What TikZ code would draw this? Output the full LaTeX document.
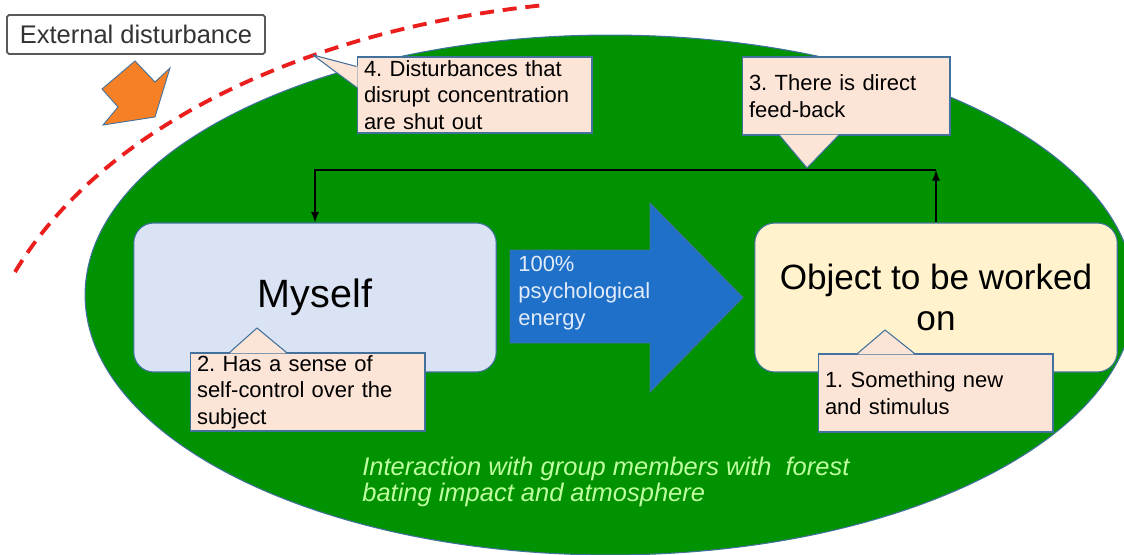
\documentclass[tikz,border=0pt]{standalone}
\usepackage{fontspec}
\setmainfont{Liberation Sans}
\usepackage{xcolor}
\usepackage{tikz}
\usetikzlibrary{shapes.geometric,calc}
\frenchspacing

\definecolor{forest}{RGB}{0,146,0}
\definecolor{edgeblue}{RGB}{65,113,156}
\definecolor{selfblue}{RGB}{218,227,243}
\definecolor{objcream}{RGB}{255,242,204}
\definecolor{notepeach}{RGB}{252,228,214}
\definecolor{energyblue}{RGB}{31,112,200}
\definecolor{energytext}{RGB}{225,235,250}
\definecolor{gustorange}{RGB}{246,128,38}
\definecolor{shieldred}{RGB}{235,30,30}
\definecolor{moodgreen}{RGB}{190,255,160}

\begin{document}
\begin{tikzpicture}[x=0.02cm,y=-0.02cm,
        mainbox/.style={draw=edgeblue,line width=0.6pt,rounded corners=0.4cm,minimum width=7.25cm,minimum height=2.98cm,align=center},
        note/.style={draw=edgeblue,line width=0.6pt,fill=notepeach,align=left,inner xsep=0.14cm,inner ysep=0.02cm,minimum height=1.56cm,font=\fontsize{12.5}{15}\selectfont},
        noteedge/.style={draw=edgeblue,line width=0.6pt,line join=round},
        feedback/.style={line width=1.1pt,-latex}]
        \useasboundingbox (0,0) rectangle (1124,554);
        \clip (0,0) rectangle (1124,554);

        \node[ellipse,draw=edgeblue,line width=0.6pt,fill=forest,minimum width=21cm,minimum height=10.4cm] (group) at (610,295) {};

        \draw[shieldred,line width=2.2pt,dash pattern=on 8pt off 5pt] (15,272) .. controls (100,130) and (300,30) .. (545,5);

        \node[draw=black!65,line width=1pt,rounded corners=1pt,fill=white,minimum width=5.16cm,minimum height=0.78cm,text=black!80,font=\fontsize{14.5}{17}\selectfont] (ext) at (136,34.5) {External disturbance};
        \filldraw[fill=gustorange,draw=edgeblue,line width=0.5pt] (135,61) -- (155,82) -- (170,68) -- (155,117) -- (103,125) -- (118,107) -- (102,89) -- cycle;

        \node[mainbox,fill=selfblue,font=\fontsize{22.5}{26}\selectfont] (me) at (315,297.5) {Myself};
        \node[mainbox,fill=objcream,font=\fontsize{20}{23.8}\selectfont] (obj) at (936,297.5) {Object to be worked\\on};

        \filldraw[fill=energyblue,draw=edgeblue,line width=0.5pt] (510,250) -- (650,250) -- (650,203) -- (743,297.5) -- (650,392) -- (650,343) -- (510,343) -- cycle;
        \node[anchor=north west,inner sep=0pt,align=left,text=energytext,font=\fontsize{12.5}{15.3}\selectfont] (energy) at (518,256) {100\%\\psychological\\energy};

        \coordinate (turn) at (936,170);
        \draw[feedback] (obj.north) -- (turn);
        \draw[feedback] (turn) -| (me.north);

        % notes with their pointers
        \coordinate (tip1) at (885,330);
        \coordinate (tip2) at (257,328);
        \coordinate (tip3) at (807,168);
        \coordinate (tip4) at (313,55);
        \node[note,minimum width=4.7cm,text width=4.42cm] (n1) at (935.5,393) {1. Something new\\and stimulus};
        \fill[notepeach] ($(n1.north west)+(40,1)$) -- (tip1) -- ($(n1.north west)+(97,1)$) -- cycle;
        \draw[noteedge] ($(n1.north west)+(40,0)$) -- (tip1) -- ($(n1.north west)+(97,0)$);

        \node[note,minimum width=4.7cm,text width=4.42cm] (n2) at (307.5,392) {2. Has a sense of\\self-control over the\\subject};
        \fill[notepeach] ($(n2.north west)+(40,1)$) -- (tip2) -- ($(n2.north west)+(97,1)$) -- cycle;
        \draw[noteedge] ($(n2.north west)+(40,0)$) -- (tip2) -- ($(n2.north west)+(97,0)$);

        \node[note,minimum width=4.16cm,text width=3.88cm] (n3) at (846,96) {3. There is direct\\feed-back};
        \fill[notepeach] ($(n3.south west)+(38,-1)$) -- (tip3) -- ($(n3.south west)+(97,-1)$) -- cycle;
        \draw[noteedge] ($(n3.south west)+(38,0)$) -- (tip3) -- ($(n3.south west)+(97,0)$);

        \node[note,minimum width=4.7cm,text width=4.42cm,minimum height=1.52cm] (n4) at (474.5,95) {4. Disturbances that\\disrupt concentration\\are shut out};
        \fill[notepeach] ($(n4.north west)+(1,10)$) -- (tip4) -- ($(n4.north west)+(1,31)$) -- cycle;
        \draw[noteedge] ($(n4.north west)+(0,10)$) -- (tip4) -- ($(n4.north west)+(0,31)$);

        \node[anchor=north west,inner sep=0pt,align=left,text=moodgreen,font=\fontsize{14.5}{14.5}\selectfont\itshape] (mood) at (362,457) {Interaction with group members with\ \ forest\\bating impact and atmosphere};
    \end{tikzpicture}
\end{document}
